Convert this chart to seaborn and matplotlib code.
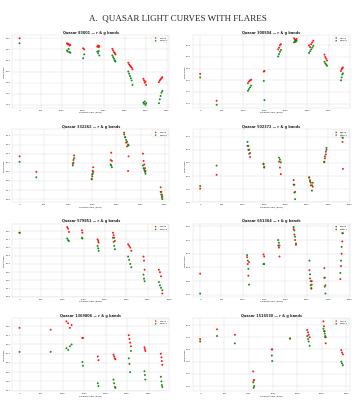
import matplotlib
matplotlib.use("Agg")
import matplotlib.pyplot as plt
import seaborn as sns

# light curves, magnitudes per band
mjd_83001 = [0, 1130, 1150, 1170, 1190, 1210, 1515, 1540, 1850, 1870, 1885, 1900, 2210, 2230, 2250, 2270, 2285,
             2590, 2610, 2630, 2650, 2670, 2690, 2950, 2965, 2980, 3000, 3015, 3320, 3340, 3360, 3380, 3400]
r_83001 = [20.00, 20.09, 20.11, 20.10, 20.13, 20.12, 20.18, 20.20, 20.15, 20.13, 20.16, 20.14, 20.19, 20.22, 20.25, 20.27, 20.29,
           20.44, 20.47, 20.49, 20.51, 20.53, 20.56, 20.73, 20.76, 20.80, 20.78, 20.84, 20.79, 20.76, 20.74, 20.72, 20.70]
g_83001 = [20.09, 20.22, 20.24, 20.19, 20.25, 20.26, 20.36, 20.29, 20.24, 20.27, 20.23, 20.31, 20.31, 20.34, 20.37, 20.40, 20.42,
           20.60, 20.64, 20.68, 20.72, 20.76, 20.84, 21.16, 21.18, 21.14, 21.20, 21.17, 21.17, 21.10, 21.04, 20.98, 20.95]

mjd_300504 = [0, 385, 1115, 1140, 1165, 1190, 1485, 1500, 1820, 1840, 1860, 1885, 2190, 2210, 2230, 2250,
              2540, 2565, 2590, 2615, 2640, 2900, 2920, 2940, 2960, 3285, 3300, 3315, 3330]
r_300504 = [20.89, 21.35, 21.05, 21.02, 21.00, 20.99, 20.85, 20.84, 20.47, 20.44, 20.40, 20.38, 20.28, 20.30, 20.31, 20.29,
            20.40, 20.43, 20.38, 20.35, 20.32, 20.56, 20.60, 20.63, 20.66, 20.84, 20.81, 20.79, 20.78]
g_300504 = [20.95, 21.42, 21.18, 21.15, 21.12, 21.09, 21.01, 21.34, 20.59, 20.55, 20.51, 20.48, 20.35, 20.33, 20.34, 20.32,
            20.53, 20.50, 20.47, 20.44, 20.41, 20.68, 20.71, 20.73, 20.75, 21.00, 20.95, 20.90, 20.88]

mjd_332262 = [0, 347, 1100, 1113, 1126, 1490, 1500, 1510, 1520, 1880, 1893, 1906, 2160, 2180, 2200, 2220, 2240, 2250,
              2547, 2560, 2575, 2590, 2600, 2913, 2925, 2937, 2947]
r_332262 = [20.33, 20.50, 20.41, 20.37, 20.32, 20.58, 20.53, 20.49, 20.45, 20.37, 20.29, 20.38, 20.07, 20.12, 20.18, 20.22, 20.49, 20.33,
            20.30, 20.38, 20.42, 20.46, 20.49, 20.67, 20.72, 20.75, 20.77]
g_332262 = [20.39, 20.56, 20.43, 20.40, 20.35, 20.58, 20.55, 20.52, 20.50, 20.42, 20.43, 20.45, 20.09, 20.12, 20.15, 20.17, 20.20, 20.21,
            20.43, 20.46, 20.48, 20.50, 20.52, 20.72, 20.75, 20.78, 20.80]

mjd_502372 = [0, 385, 1110, 1130, 1150, 1170, 1485, 1500, 1850, 1870, 1890, 2190, 2208, 2225,
              2555, 2575, 2595, 2620, 2640, 2908, 2925, 2945, 2960, 3310, 3320, 3335, 3345]
r_502372 = [20.99, 20.78, 20.34, 20.40, 20.46, 20.51, 20.61, 20.66, 20.58, 20.67, 20.77, 20.86, 20.93, 21.04,
            20.82, 20.86, 20.90, 20.94, 20.96, 20.59, 20.53, 20.47, 20.40, 20.15, 20.20, 20.28, 20.69]
g_502372 = [20.95, 20.64, 20.28, 20.34, 20.40, 20.45, 20.62, 20.67, 20.52, 20.55, 20.59, 20.93, 21.05, 21.15,
            20.82, 20.88, 20.94, 21.02, 20.90, 20.58, 20.50, 20.43, 20.37, 20.14, 20.17, 20.20, 20.22]

mjd_579851 = [0, 1115, 1135, 1155, 1460, 1470, 1825, 1840, 1850, 2185, 2200, 2215, 2230,
              2540, 2565, 2590, 2615, 2900, 2912, 2925, 3260, 3285, 3310, 3340]
r_579851 = [20.02, 19.95, 19.97, 20.01, 19.99, 20.02, 20.10, 20.12, 20.14, 20.02, 20.05, 20.08, 20.12,
            20.16, 20.18, 20.20, 20.24, 20.31, 20.36, 20.47, 20.47, 20.50, 20.55, 20.76]
g_579851 = [20.02, 20.09, 20.11, 20.12, 20.08, 20.09, 20.18, 20.21, 20.24, 20.08, 20.13, 20.18, 20.22,
            20.31, 20.35, 20.40, 20.44, 20.53, 20.58, 20.61, 20.62, 20.66, 20.69, 20.72]

mjd_651364 = [0, 1100, 1115, 1130, 1145, 1485, 1500, 1830, 1845, 1860, 2190, 2208, 2225, 2245,
              2560, 2575, 2590, 2605, 2615, 2910, 2920, 2935, 3285, 3300, 3315, 3330, 3345]
r_651364 = [20.69, 20.45, 20.55, 20.72, 20.52, 20.41, 20.44, 20.28, 20.31, 20.44, 20.04, 20.12, 20.20, 20.27,
            20.64, 20.76, 20.86, 20.91, 20.80, 20.61, 20.75, 20.86, 20.77, 20.58, 20.40, 20.22, 20.10]
g_651364 = [20.98, 20.42, 20.50, 20.62, 20.85, 20.55, 20.55, 20.20, 20.24, 20.28, 20.01, 20.06, 20.15, 20.25,
            20.50, 20.70, 20.80, 20.90, 20.85, 20.75, 20.88, 20.98, 20.68, 20.50, 20.30, 20.10, 20.04]

mjd_1369806 = [0, 723, 1090, 1130, 1170, 1210, 1460, 1475, 1820, 1835, 2185, 2200, 2215, 2230,
               2540, 2555, 2570, 2590, 2905, 2915, 2925, 3285, 3300, 3310, 3320]
r_1369806 = [20.02, 20.04, 19.95, 19.97, 20.02, 19.99, 20.13, 20.13, 20.33, 20.37, 20.31, 20.33, 20.35, 20.36,
             20.10, 20.14, 20.18, 20.22, 20.23, 20.25, 20.27, 20.30, 20.34, 20.38, 20.42]
g_1369806 = [20.28, 20.28, 20.24, 20.26, 20.22, 20.20, 20.39, 20.43, 20.62, 20.65, 20.58, 20.62, 20.66, 20.67,
             20.35, 20.41, 20.50, 20.27, 20.49, 20.53, 20.58, 20.55, 20.60, 20.64, 20.66]

mjd_1516530 = [0, 347, 713, 1090, 1100, 1110, 1473, 1480, 1847, 2200, 2215, 2230, 2250,
               2533, 2545, 2560, 2570, 2580, 2900, 2915, 2933]
r_1516530 = [20.63, 20.47, 20.56, 21.16, 21.31, 21.30, 20.80, 20.80, 20.62, 20.48, 20.52, 20.56, 20.60,
             20.34, 20.42, 20.50, 20.60, 20.70, 20.81, 20.85, 20.88]
g_1516530 = [20.67, 20.58, 20.70, 21.34, 21.43, 21.40, 20.90, 20.99, 20.62, 20.58, 20.63, 20.67, 20.74,
             20.46, 20.50, 20.54, 20.58, 20.60, 21.00, 21.03, 21.06]

quasars = [
    ("83001", mjd_83001, r_83001, g_83001),
    ("300504", mjd_300504, r_300504, g_300504),
    ("332262", mjd_332262, r_332262, g_332262),
    ("502372", mjd_502372, r_502372, g_502372),
    ("579851", mjd_579851, r_579851, g_579851),
    ("651364", mjd_651364, r_651364, g_651364),
    ("1369806", mjd_1369806, r_1369806, g_1369806),
    ("1516530", mjd_1516530, r_1516530, g_1516530),
]

sns.set_style("whitegrid")

fig, axes = plt.subplots(4, 2, figsize=(14.2, 16), dpi=25)
plt.subplots_adjust(left=0.035, right=0.986, top=0.9125, bottom=0.022, wspace=0.15, hspace=0.29)

for ax, (qid, mjd, r, g) in zip(axes.flat, quasars):
    sns.scatterplot(x=mjd, y=r, color="red", s=32, alpha=0.9, edgecolor="none", label="r-band", ax=ax)
    sns.scatterplot(x=mjd, y=g, color="green", s=32, alpha=0.9, edgecolor="none", label="g-band", ax=ax)
    ax.invert_yaxis()
    ax.set_title(f"Quasar {qid} — r & g bands", fontsize=10, fontweight="bold", pad=4)
    ax.set_xlabel("Relative MJD (days)", fontsize=7, labelpad=2)
    ax.set_ylabel("Magnitude", fontsize=7, labelpad=2)
    ax.tick_params(labelsize=6.5, pad=2)
    ax.legend(loc="upper right", fontsize=6.5, frameon=True, markerscale=0.8)

fig.suptitle("A.  QUASAR LIGHT CURVES WITH FLARES", fontsize=26, family="Liberation Serif", y=0.965)

plt.savefig("out.png", dpi=25)
